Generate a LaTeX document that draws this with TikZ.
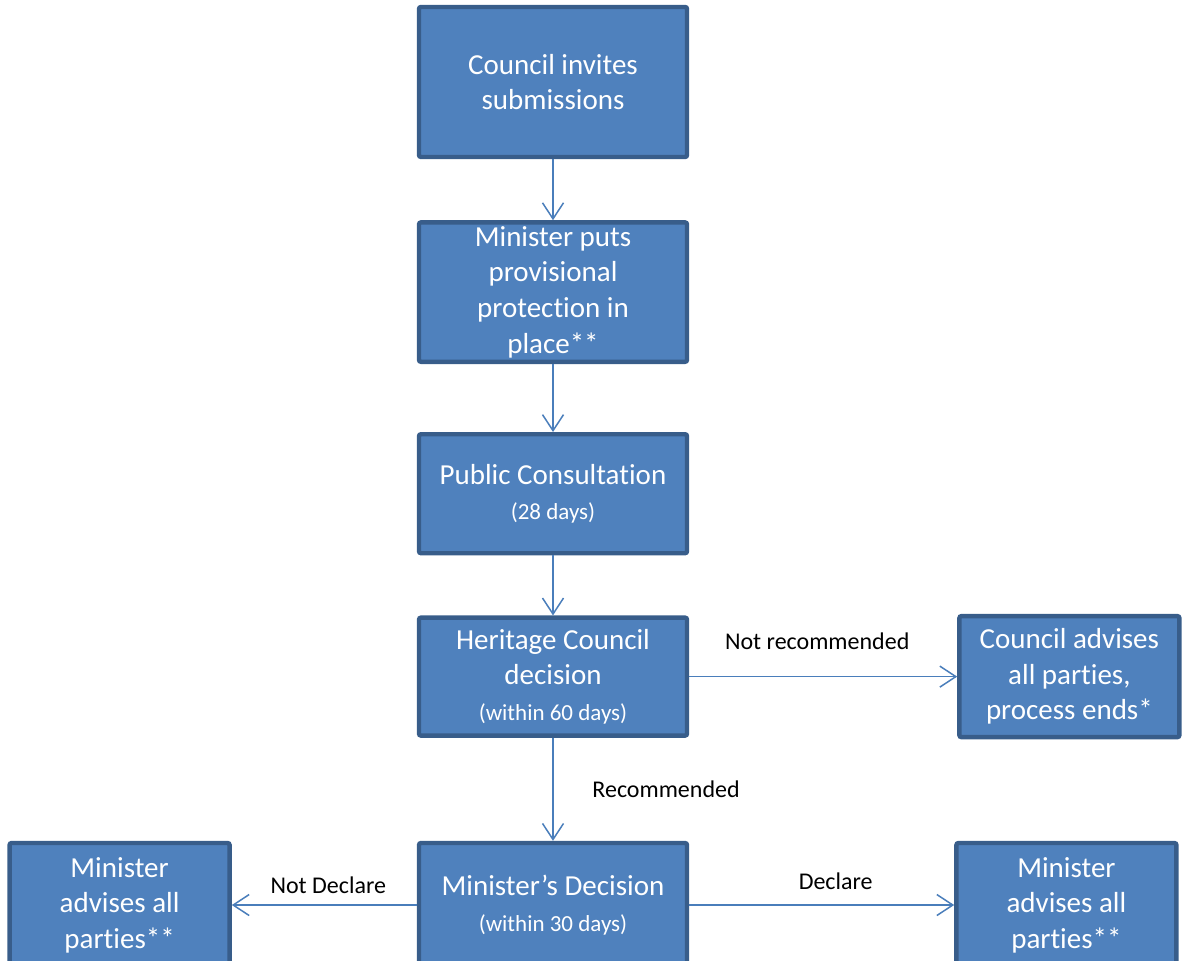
\documentclass[tikz,border=0pt]{standalone}
\usepackage{fontspec}
\setmainfont{Carlito}[Ligatures=CommonOff]
\usetikzlibrary{positioning,arrows.meta}

\definecolor{boxfill}{HTML}{4F81BD}
\definecolor{boxedge}{HTML}{385D8A}
\definecolor{linkblue}{HTML}{4A7EBB}

\newcommand{\daysnote}[1]{{\fontsize{11.5}{14}\selectfont #1}}

\begin{document}
\begin{tikzpicture}[->,>={Straight Barb[length=8pt,width=10.5pt]},line width=0.75pt,
  box node/.style={rectangle,draw=boxedge,fill=boxfill,line width=2.2pt,rounded corners=1pt,
    text=white,align=center,inner sep=2pt,minimum width=134pt,
    font=\fontsize{14.5}{17.8}\selectfont},
  side node/.style={box node,minimum width=110pt},
  label node/.style={font=\fontsize{12}{14}\selectfont,text=black}]
   \useasboundingbox (0,0) rectangle (591pt,-480.5pt);
   \node[box node,minimum height=75pt]  (invite)   at (276.5pt,-41pt)      {Council invites\\submissions};
   \node[box node,minimum height=69pt]  (protect)  [below=30.5pt of invite]  {Minister puts\\provisional\\protection in\\place**};
   \node[box node,minimum height=59.5pt] (consult) [below=34pt of protect]   {Public Consultation\\\daysnote{(28 days)}};
   \node[box node,minimum height=59pt]  (council)  [below=30pt of consult]   {Heritage Council\\decision\\\daysnote{(within 60 days)}};
   \node[side node,minimum height=60.5pt] (ends)   [right=134pt of council]  {Council advises\\all parties,\\process ends*};
   \node[box node,minimum height=62pt]  (minister) [below=51.5pt of council] {Minister’s Decision\\\daysnote{(within 30 days)}};
   \node[side node,minimum height=62pt] (notdecl)  [left=92.5pt of minister] {Minister\\advises all\\parties**};
   \node[side node,minimum height=62pt] (decl)     [right=132.5pt of minister] {Minister\\advises all\\parties**};
    \path[draw=linkblue]
    (invite)   edge                                                   (protect)
    (protect)  edge                                                   (consult)
    (consult)  edge                                                   (council)
    (council)  edge  node[label node,midway,yshift=17.5pt,xshift=-3pt] {Not recommended} (ends)
               edge  node[label node,midway,right=16pt]               {Recommended}     (minister)
    (minister) edge  node[label node,midway,yshift=10pt,xshift=2pt]   {Not Declare}     (notdecl)
               edge  node[label node,midway,yshift=12pt,xshift=7pt]   {Declare}         (decl);
\end{tikzpicture}
\end{document}
